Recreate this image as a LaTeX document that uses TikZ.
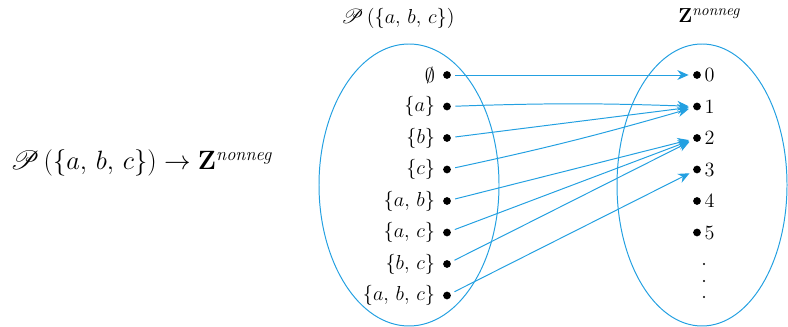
\documentclass[tikz,border=0pt]{standalone}
\usepackage{graphicx}
\usepackage{amsmath}
\usepackage{mathrsfs}
\usetikzlibrary{arrows.meta, positioning}
\definecolor{mapblue}{RGB}{35,160,225}
\tikzset{
  elt/.style={circle, fill=black, inner sep=0pt, minimum size=5.5pt},
  setlbl/.style={font=\fontsize{15.5}{18}\selectfont},
  maparrow/.style={-{Stealth[length=8pt,width=7pt]}, color=mapblue, line width=0.7pt, shorten >=3pt, shorten <=3pt},
  setoval/.style={draw=mapblue, line width=0.7pt}
}
\newcommand{\sep}{,\,}

\begin{document}
\begin{tikzpicture}[x=0.025cm, y=-0.025cm]
  \useasboundingbox (0,0) rectangle (788,327);

  % Sets
  \draw[setoval] (409,185) ellipse [x radius=90, y radius=141];
  \draw[setoval] (702,185) ellipse [x radius=85, y radius=141];

  % Titles
  \node[setlbl] (dom) at (398,18) {$\mathscr{P}\,(\{a\sep b\sep c\})$};
  \node[setlbl] (cod) at (710,16) {$\mathbf{Z}^{\mathit{nonneg}}$};
  \node[font=\fontsize{17.28}{20}\selectfont] (fn) at (142,163)
    {\scalebox{1.09}{$\mathscr{P}\,(\{a\sep b\sep c\}) \to \mathbf{Z}^{\mathit{nonneg}}$}};

  % Elements
  \foreach \lbl [count=\i from 0] in {{\emptyset},{\{a\}},{\{b\}},{\{c\}},{\{a\sep b\}},{\{a\sep c\}},{\{b\sep c\}},{\{a\sep b\sep c\}}}
    \node[elt, label={[setlbl, label distance=2pt]left:$\lbl$}] (s\i) at (447,75+31.5*\i) {};
  \foreach \j in {0,...,5}
    \node[elt, label={[setlbl, label distance=-1pt]right:$\j$}] (t\j) at (697,75+31.5*\j) {};
  \foreach \yy in {264,281,297}
    \fill (704,\yy) circle (0.8pt);

  % Mapping
  \draw[maparrow] (s0) -- (t0);
  \draw[maparrow] (s1) to[bend left=2] (t1);
  \draw[maparrow] (s2) -- (t1);
  \draw[maparrow] (s3) to[bend right=2] (t1);
  \draw[maparrow] (s4) -- (t2);
  \draw[maparrow] (s5) -- (t2);
  \draw[maparrow] (s6) -- (t2);
  \draw[maparrow] (s7) -- (t3);

\end{tikzpicture}
\end{document}
